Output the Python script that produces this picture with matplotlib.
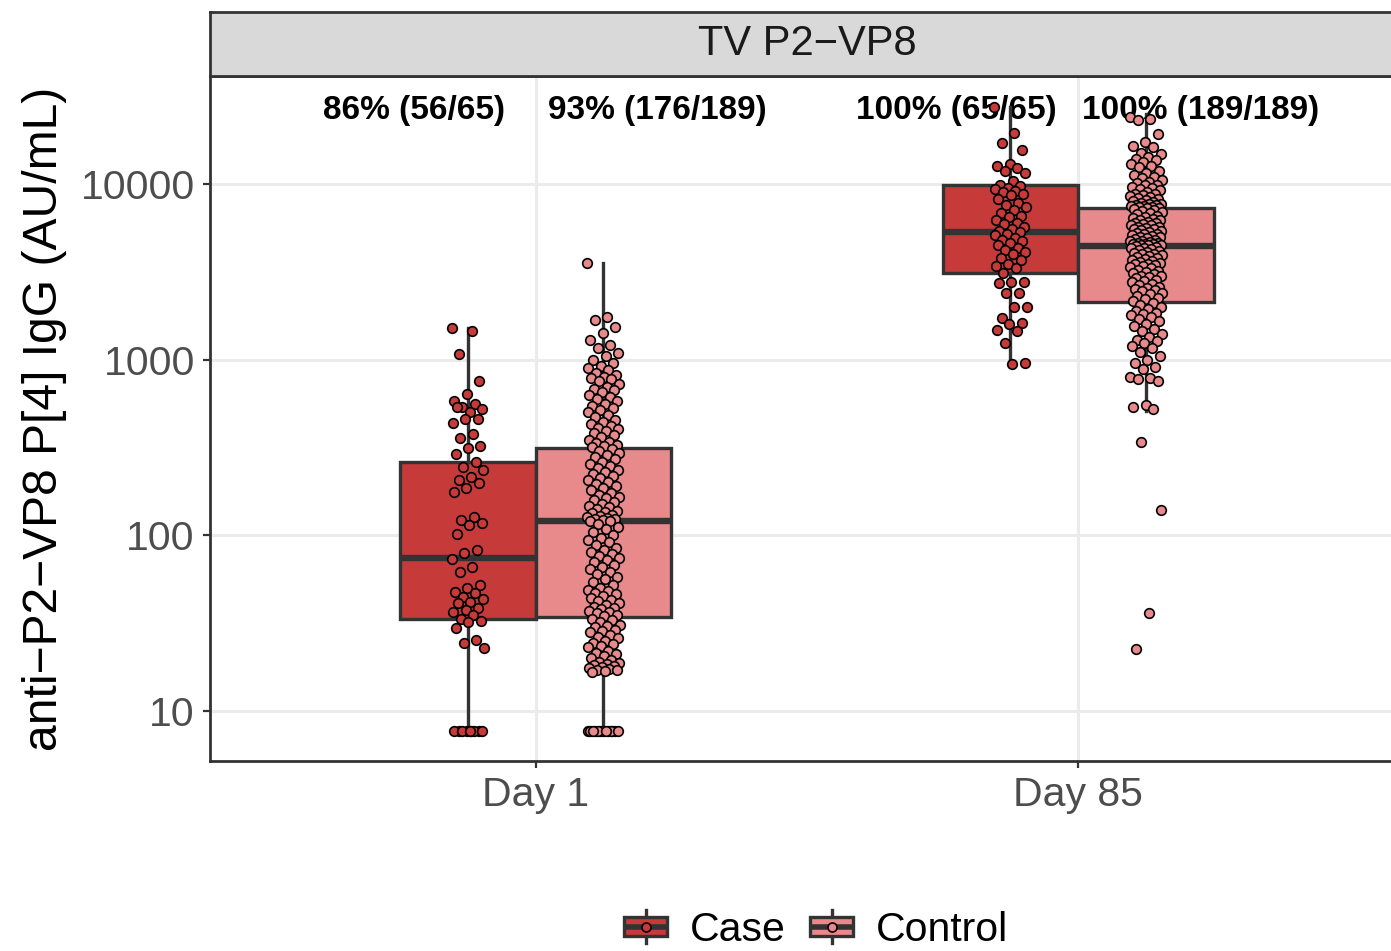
import matplotlib
matplotlib.use("Agg")
import matplotlib.pyplot as plt
import numpy as np
from matplotlib.patches import Rectangle, Patch
from matplotlib.lines import Line2D
from matplotlib.legend_handler import HandlerBase

plt.rcParams['font.family'] = ['Liberation Sans', 'DejaVu Sans']

# --- data ---
days = ["Day 1", "Day 85"]
groups = ["Case", "Control"]
colors = {"Case": "#C63A3A", "Control": "#E88A8B"}

case_pct = ["86% (56/65)", "100% (65/65)"]
ctrl_pct = ["93% (176/189)", "100% (189/189)"]

# box statistics (AU/mL): per day
case_q1 = [33.4, 3110]
case_med = [74, 5320]
case_q3 = [261, 9860]
case_lo = [7.7, 957]
case_hi = [1514, 27400]

ctrl_q1 = [34.3, 2130]
ctrl_med = [120, 4450]
ctrl_q3 = [314, 7300]
ctrl_lo = [7.7, 510]
ctrl_hi = [3550, 25000]

# individual responses
case_d1 = [1514, 1450, 1077, 755, 637, 580, 559, 534, 520, 505, 534, 459, 459, 436, 377,
           358, 322, 314, 290, 261, 245, 235, 215, 206, 199, 186, 176, 127, 122, 117,
           114, 102, 82, 79, 73, 66, 62, 52, 50, 47.5, 47, 44.6, 43.4, 41.7, 41.2,
           38.6, 37.6, 36.6, 35, 33.4, 32.5, 32, 29.7, 25.4, 24.4, 22.8,
           7.7, 7.7, 7.7, 7.7, 7.7, 7.7, 7.7, 7.7, 7.7]

ctrl_d1 = [3550, 1750, 1680, 1530, 1420, 1290, 1210, 1160, 1090, 1050, 1000,
           960, 920, 900, 870, 840, 820, 800, 790, 770, 750, 730, 700, 680, 670, 650,
           630, 615, 600, 580, 560, 545, 530, 515, 500, 485, 470, 455, 440, 430, 420,
           410, 400, 390, 380, 370, 360, 350, 340, 335, 328, 322, 316,
           308, 300, 292, 285, 278, 270, 262, 255, 248, 242, 236, 230, 224, 218, 212,
           206, 200, 195, 190, 185, 180, 175, 170, 166, 162, 158, 154, 150, 147, 144,
           141, 138, 135, 133, 131, 129, 127, 125, 124, 123, 122, 121, 120,
           116, 112, 108, 104, 100, 97, 94, 91, 88, 85, 82, 80, 78, 76, 74, 72, 70,
           68, 66, 64, 62, 60, 58, 56, 54, 52, 50, 49, 48, 47, 46, 45, 44, 43, 42, 41,
           40, 39, 38.5, 38, 37, 36.5, 36, 35, 34.5,
           33.5, 33, 32, 31, 30.5, 30, 29, 28.5, 28, 27, 26.5, 26, 25, 24.5, 24, 23.5,
           23, 22, 21.5, 21, 20.5, 20, 19.5, 19, 18.8, 18.5, 18.2, 18, 17.8, 17.6,
           17.4, 17.2, 17, 16.8, 16.6,
           7.7, 7.7, 7.7, 7.7, 7.7, 7.7, 7.7, 7.7, 7.7, 7.7, 7.7, 7.7, 7.7]

case_d85 = [27400, 19500, 17100, 15600, 13000, 12700, 12300, 11900, 11600, 10400,
            9900, 9700, 9500, 9300, 9100, 9000, 8800, 8600, 8200, 7800, 7600, 7400,
            7100, 6800, 6600, 6500, 6200, 6000, 5900, 5700, 5500, 5400, 5300, 5200,
            5100, 4900, 4800, 4700, 4600, 4500, 4300, 4200, 4100, 4000, 3800, 3700,
            3500, 3400, 3300, 3100, 2770, 2750, 2730, 2400, 2380, 2000, 1980, 1730,
            1620, 1600, 1470, 1450, 1240, 960, 940]

ctrl_d85 = [24000, 23500, 23000, 19200, 17200, 16400, 16200, 15000, 14800, 14200,
            13900, 13600, 13300, 12900, 12600, 12400, 11800, 11500, 11200, 11000,
            10800, 10500, 10300, 10100,
            9900, 9800, 9600, 9500, 9400, 9200, 9000, 8800, 8700, 8600, 8500, 8400,
            8300, 8200, 8100, 8000, 7900, 7800, 7700, 7650, 7600, 7550, 7500, 7450,
            7400, 7350, 7300,
            7250, 7200, 7100, 7000, 6900, 6800, 6700, 6600, 6500, 6400, 6300, 6250,
            6200, 6100, 6000, 5950, 5900, 5850, 5800, 5700, 5650, 5600, 5550, 5500,
            5450, 5400, 5300, 5250, 5200, 5150, 5100, 5050, 5000, 4950, 4900, 4850,
            4800, 4750, 4700, 4650, 4600, 4580, 4560, 4540, 4520, 4500, 4480, 4460,
            4420, 4380, 4340, 4300, 4250, 4200, 4150, 4100, 4050, 4000, 3980, 3950,
            3900, 3850, 3800, 3750, 3700, 3650, 3600, 3550, 3520, 3500, 3450, 3400,
            3350, 3300, 3250, 3200, 3150, 3100, 3050, 3000, 2980, 2950, 2900, 2850,
            2800, 2750, 2700, 2650, 2600, 2550, 2520, 2500, 2450, 2400, 2350, 2300,
            2250, 2200, 2150,
            2100, 2050, 2000, 1950, 1900, 1850, 1820, 1800, 1750, 1700, 1650, 1600,
            1550, 1500, 1450, 1400, 1350, 1300, 1280, 1250, 1200, 1160, 1100, 1050,
            1000, 950, 910, 880, 800, 785, 770, 750, 550, 540, 520, 338, 139, 36, 22.5]

case_points = [case_d1, case_d85]
ctrl_points = [ctrl_d1, ctrl_d85]

# --- layout ---
DARK = "#333333"
GRID = "#EBEBEB"
fig = plt.figure(figsize=(13.91, 9.51), dpi=100)
ax = fig.add_axes([0.151, 0.1998, 0.8583, 0.7203])
strip = fig.add_axes([0.151, 0.9201, 0.8583, 0.0673])

dodge = 0.125
box_w = 0.25
jit_w = 0.03


def jitter(n, width):
    # deterministic spread (golden-ratio sequence) instead of random jitter
    return ((np.arange(n) * 0.6180339887) % 1.0 - 0.5) * 2 * width


for grp, q1, med, q3, lo, hi, pts, labels, sign in [
        ("Case", case_q1, case_med, case_q3, case_lo, case_hi, case_points, case_pct, -1),
        ("Control", ctrl_q1, ctrl_med, ctrl_q3, ctrl_lo, ctrl_hi, ctrl_points, ctrl_pct, 1)]:
    stats = [dict(q1=q1[i], med=med[i], q3=q3[i], whislo=lo[i], whishi=hi[i], fliers=[])
             for i in range(len(days))]
    pos = [i + 1 + sign * dodge for i in range(len(days))]
    ax.bxp(stats, positions=pos, widths=box_w, patch_artist=True,
           showfliers=False, showcaps=False,
           boxprops=dict(facecolor=colors[grp], edgecolor=DARK, linewidth=2.4),
           medianprops=dict(color=DARK, linewidth=4.6, solid_capstyle='butt'),
           whiskerprops=dict(color=DARK, linewidth=2.4),
           zorder=2)
    for i, vals in enumerate(pts):
        xs = pos[i] + jitter(len(vals), jit_w)
        ax.scatter(xs, vals, s=48, facecolor=colors[grp], edgecolor='black',
                   linewidth=1.2, zorder=3)
        ax.text(i + 1 + sign * 0.225, 26000, labels[i], ha='center', va='center',
                fontsize=24, fontweight='bold', color='black', zorder=1.5)

ax.set_yscale('log')
ax.set_ylim(5.19, 41100)
ax.set_xlim(0.4, 2.6)
ax.set_yticks([10, 100, 1000, 10000])
ax.set_yticklabels(["10", "100", "1000", "10000"])
ax.yaxis.set_minor_locator(matplotlib.ticker.NullLocator())
ax.set_xticks([1, 2])
ax.set_xticklabels(days)
ax.tick_params(axis='both', labelsize=29.5, labelcolor="#4D4D4D", color=DARK,
               length=5, width=1.6, pad=6)
ax.grid(True, color=GRID, linewidth=2.2, zorder=0)
ax.set_axisbelow(True)
for side in ['left', 'bottom', 'top', 'right']:
    ax.spines[side].set_color(DARK)
    ax.spines[side].set_linewidth(2.0)

fig.text(45 / 1391, 1 - 419 / 951, "anti\u2212P2\u2212VP8 P[4] IgG (AU/mL)",
         rotation=90, ha='center', va='center', fontsize=34.6)

# facet strip
strip.set_facecolor("#D9D9D9")
strip.set_xticks([])
strip.set_yticks([])
for side in strip.spines.values():
    side.set_color(DARK)
    side.set_linewidth(2.0)
strip.text(0.5, 0.5, "TV P2\u2212VP8", transform=strip.transAxes, ha='center',
           va='center', fontsize=30, color="#1A1A1A")


# legend with boxplot-like keys
class BoxKey(HandlerBase):
    def create_artists(self, legend, orig_handle, xdescent, ydescent, width,
                       height, fontsize, trans):
        fc = orig_handle.get_facecolor()
        x0, y0 = -xdescent, -ydescent
        cx, cy = x0 + width / 2, y0 + height / 2
        b0, b1 = y0 + 0.18 * height, y0 + 0.82 * height
        rect = Rectangle((x0, b0), width, b1 - b0, facecolor=fc, edgecolor=DARK,
                         linewidth=2.4, transform=trans)
        w1 = Line2D([cx, cx], [y0 - 0.05 * height, b0], color=DARK, lw=2.4, transform=trans)
        w2 = Line2D([cx, cx], [b1, y0 + 1.05 * height], color=DARK, lw=2.4, transform=trans)
        m = Line2D([x0, x0 + width], [cy, cy], color=DARK, lw=4.0,
                   solid_capstyle='butt', transform=trans)
        p = Line2D([cx], [cy], marker='o', markersize=6.5, markerfacecolor=fc,
                   markeredgecolor='black', markeredgewidth=1.2, transform=trans)
        return [w1, w2, rect, m, p]


handles = [Patch(facecolor=colors[g]) for g in groups]
fig.legend(handles, groups, handler_map={Patch: BoxKey()}, loc='center',
           bbox_to_anchor=(816 / 1391, 1 - 930 / 951), ncol=2, frameon=False,
           fontsize=29.5, handlelength=1.05, handleheight=0.75,
           handletextpad=0.55, columnspacing=0.6)

fig.savefig("out.png", dpi=100)
